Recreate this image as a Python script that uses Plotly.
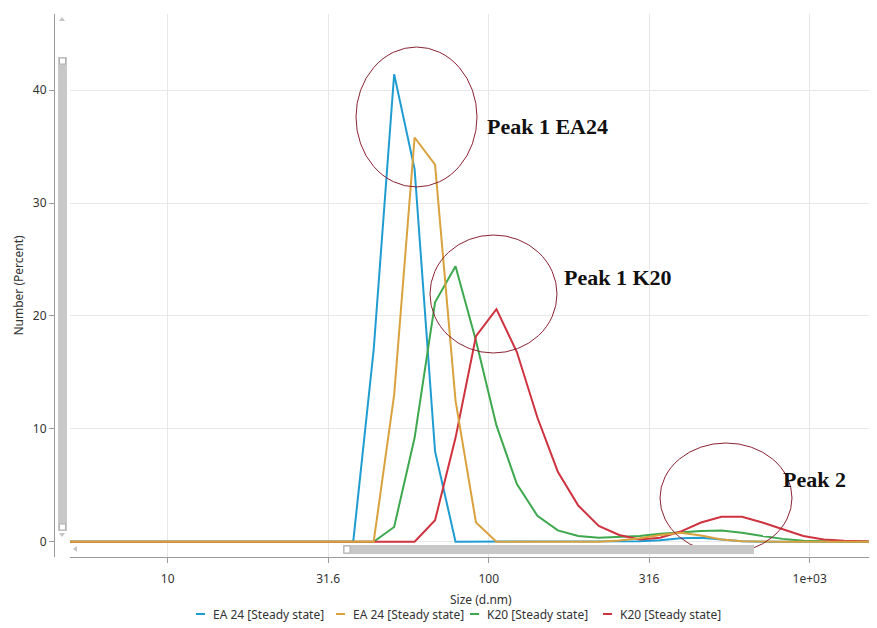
import plotly.graph_objects as go

# Size bins (d.nm)
sizes = [4.187, 4.849, 5.615, 6.503, 7.531, 8.721, 10.10, 11.70, 13.54, 15.69,
         18.17, 21.04, 24.36, 28.21, 32.67, 37.84, 43.82, 50.75, 58.77, 68.06,
         78.82, 91.28, 105.7, 122.4, 141.8, 164.2, 190.1, 220.2, 255.0, 295.3,
         342.0, 396.1, 458.7, 531.2, 615.1, 712.4, 825.0, 955.4, 1106, 1281,
         1484, 1718, 1990, 2305]

ea24_a = [0, 0, 0, 0, 0, 0, 0, 0, 0, 0,
          0, 0, 0, 0, 0, 0, 17.0, 41.4, 33.0, 8.0,
          0, 0, 0, 0, 0, 0, 0, 0, 0, 0.05,
          0.12, 0.3, 0.35, 0.2, 0.05, 0, 0, 0, 0, 0,
          0, 0, 0, 0]

ea24_b = [0, 0, 0, 0, 0, 0, 0, 0, 0, 0,
          0, 0, 0, 0, 0, 0, 0, 13.0, 35.8, 33.4,
          12.5, 1.7, 0, 0, 0, 0, 0, 0, 0.1, 0.3,
          0.6, 0.8, 0.55, 0.2, 0.05, 0, 0, 0, 0, 0,
          0, 0, 0, 0]

k20_a = [0, 0, 0, 0, 0, 0, 0, 0, 0, 0,
         0, 0, 0, 0, 0, 0, 0, 1.3, 9.2, 21.2,
         24.4, 17.8, 10.3, 5.1, 2.3, 1.0, 0.5, 0.35, 0.4, 0.5,
         0.7, 0.85, 0.95, 1.0, 0.8, 0.5, 0.25, 0.08, 0.02, 0,
         0, 0, 0, 0]

k20_b = [0, 0, 0, 0, 0, 0, 0, 0, 0, 0,
         0, 0, 0, 0, 0, 0, 0, 0, 0, 1.9,
         9.2, 18.2, 20.6, 16.8, 11.0, 6.2, 3.2, 1.4, 0.6, 0.2,
         0.35, 0.9, 1.7, 2.2, 2.2, 1.7, 1.1, 0.5, 0.2, 0.08,
         0.03, 0, 0, 0]

x_tickvals = [10, 31.6, 100, 316, 1000]
x_ticktext = ["10", "31.6", "100", "316", "1e+03"]
y_tickvals = [0, 10, 20, 30, 40]

legend_names = ["EA 24 [Steady state]", "EA 24 [Steady state]",
                "K20 [Steady state]", "K20 [Steady state]"]
colors = ["#1f9cd0", "#d9a23e", "#3ea84e", "#cf3340"]
values = [ea24_a, ea24_b, k20_a, k20_b]
draw_order = [0, 2, 3, 1]

fig = go.Figure()
for i in draw_order:
    fig.add_trace(go.Scatter(x=sizes, y=values[i], mode="lines", name=legend_names[i],
                             line=dict(color=colors[i], width=2), showlegend=False))

# the page body has an 8px margin; the figure is sized to fill the rest of the window
OFF = 8
W, H = 877 - OFF, 628 - OFF
ML, MR, MT, MB = 54 - OFF, 0, 14 - OFF, 71
PW, PH = W - ML - MR, H - MT - MB


def px(x):
    """window pixel x -> paper fraction"""
    return (x - OFF - ML) / PW


def py(y):
    """window pixel y -> paper fraction"""
    return (H - MB - (y - OFF)) / PH


shapes = []
# peak circles
for (x0, y0, x1, y1) in [(356, 47, 477, 187), (430, 235, 557, 353), (660, 443, 792, 553)]:
    shapes.append(dict(type="circle", xref="paper", yref="paper",
                       x0=px(x0), x1=px(x1), y0=py(y1), y1=py(y0),
                       line=dict(color="#8a2232", width=1)))
# vertical scrollbar
shapes.append(dict(type="rect", xref="paper", yref="paper", x0=px(58), x1=px(67),
                   y0=py(531), y1=py(57), fillcolor="#c8c8c8", line=dict(width=0), layer="above"))
for (a, b) in [(58, 64), (524, 530)]:
    shapes.append(dict(type="rect", xref="paper", yref="paper", x0=px(59.5), x1=px(65.5),
                       y0=py(b), y1=py(a), fillcolor="white", line=dict(color="#b0b0b0", width=1), layer="above"))
# horizontal scrollbar
shapes.append(dict(type="rect", xref="paper", yref="paper", x0=px(343), x1=px(754),
                   y0=py(554), y1=py(545), fillcolor="#c8c8c8", line=dict(width=0), layer="above"))
shapes.append(dict(type="rect", xref="paper", yref="paper", x0=px(344), x1=px(350),
                   y0=py(553), y1=py(546), fillcolor="white", line=dict(color="#b0b0b0", width=1), layer="above"))


def tri(points):
    d = "M " + " L ".join(f"{px(a)},{py(b)}" for a, b in points) + " Z"
    return dict(type="path", xref="paper", yref="paper", path=d,
                fillcolor="#c4c4c4", line=dict(width=0), layer="above")


shapes.append(tri([(59, 21), (65, 21), (62, 17)]))
shapes.append(tri([(59, 533), (65, 533), (62, 537)]))
shapes.append(tri([(77, 546), (77, 552), (73, 549)]))

annotations = []
for text, (x0, yc) in [("Peak 1 EA24", (485, 126)), ("Peak 1 K20", (562, 277)), ("Peak 2", (781, 479))]:
    annotations.append(dict(text=f"<b>{text}</b>", xref="paper", yref="paper",
                            x=px(x0), y=py(yc), xanchor="left", yanchor="middle",
                            showarrow=False,
                            font=dict(family="Liberation Serif", size=22, color="#111111")))

# x-axis title
annotations.append(dict(text="Size (d.nm)", xref="paper", yref="paper",
                        x=px(481), y=py(599), xanchor="center", yanchor="middle",
                        showarrow=False, font=dict(size=12, color="#333333")))

# legend entries (compact, as in the reference)
legend_x = [196, 336, 470, 603]
legend_y = 614
for i, x0 in enumerate(legend_x):
    shapes.append(dict(type="line", xref="paper", yref="paper",
                       x0=px(x0), x1=px(x0 + 9), y0=py(legend_y), y1=py(legend_y),
                       line=dict(color=colors[i], width=2)))
    annotations.append(dict(text=legend_names[i], xref="paper", yref="paper",
                            x=px(x0 + 15), y=py(legend_y), xanchor="left", yanchor="middle",
                            showarrow=False, font=dict(size=12, color="#333333")))

fig.update_layout(
    width=W, height=H,
    margin=dict(l=ML, r=MR, t=MT, b=MB, autoexpand=False),
    paper_bgcolor="white", plot_bgcolor="white",
    font=dict(family="Noto Sans", size=12, color="#333333"),
    showlegend=False,
    shapes=shapes,
    annotations=annotations,
    xaxis=dict(type="log", range=[0.6956, 3.2097], domain=[px(70), 1],
               tickvals=x_tickvals, ticktext=x_ticktext,
               showgrid=True, gridcolor="#e8e8e8", gridwidth=1,
               showline=True, linecolor="#9a9a9a", linewidth=1,
               ticks="outside", ticklen=5, tickcolor="#9a9a9a",
               ticklabelstandoff=6,
               zeroline=False, automargin=False),
    yaxis=dict(range=[-1.355, 46.74], anchor="free", position=0,
               tickvals=y_tickvals,
               showgrid=True, gridcolor="#e8e8e8", gridwidth=1,
               showline=True, linecolor="#9a9a9a", linewidth=1,
               ticks="outside", ticklen=5, tickcolor="#9a9a9a",
               zeroline=False, automargin=False,
               title=dict(text="Number (Percent)", font=dict(size=12), standoff=5)),
)

fig.write_html("out.html")
